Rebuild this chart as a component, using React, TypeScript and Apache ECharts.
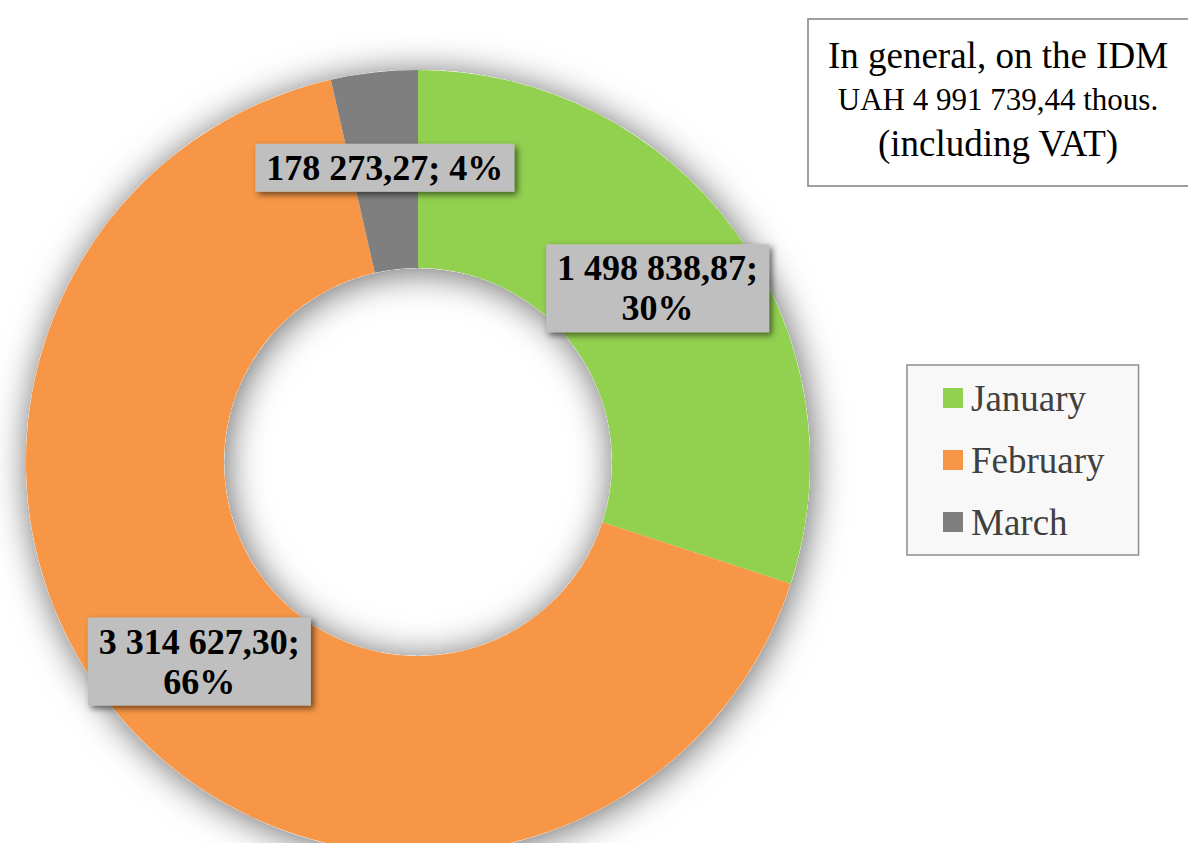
import React, { useEffect, useRef } from 'react';
import * as echarts from 'echarts';

const categories = ['January', 'February', 'March'];
const values = [1498838.87, 3314627.3, 178273.27];
const colors = ['#92D050', '#F79646', '#7F7F7F'];
const titleLines = ['In general, on the IDM', 'UAH 4 991 739,44 thous.', '(including VAT)'];

const FONT = '"Liberation Serif", "Times New Roman", serif';

function fmt(v: number): string {
  const [i, d] = v.toFixed(2).split('.');
  return i.replace(/\B(?=(\d{3})+(?!\d))/g, ' ') + ',' + d;
}

export default function App() {
  const ref = useRef<HTMLDivElement>(null);
  useEffect(() => {
    if (!ref.current) return;
    const chart = echarts.init(ref.current, undefined, { renderer: 'svg' });
    const option: any = {
      animation: false,
      backgroundColor: '#ffffff',
      color: colors,
      legend: {
        orient: 'vertical',
        left: 907,
        top: 365,
        data: categories,
        icon: 'rect',
        itemWidth: 20,
        itemHeight: 20,
        itemGap: 22,
        itemStyle: { borderWidth: 0 },
        padding: [13, 34, 13, 36],
        backgroundColor: '#f8f8f8',
        borderColor: '#8c8c8c',
        borderWidth: 1.5,
        textStyle: { fontFamily: FONT, fontSize: 37, color: '#404040', lineHeight: 40, padding: [0, 0, 0, 3] },
      },
      graphic: [
        {
          type: 'rect',
          shape: { x: 808, y: 19, width: 390, height: 167 },
          style: { fill: '#ffffff', stroke: '#808080', lineWidth: 1.5 },
        },
        {
          type: 'text',
          x: 998,
          y: 55,
          style: { text: titleLines[0], fontFamily: FONT, fontSize: 37, fill: '#000', align: 'center', verticalAlign: 'middle' },
        },
        {
          type: 'text',
          x: 998,
          y: 99,
          style: { text: titleLines[1], fontFamily: FONT, fontSize: 31, fill: '#000', align: 'center', verticalAlign: 'middle' },
        },
        {
          type: 'text',
          x: 998,
          y: 143,
          style: { text: titleLines[2], fontFamily: FONT, fontSize: 37, fill: '#000', align: 'center', verticalAlign: 'middle' },
        },
      ],
      series: [
        {
          type: 'pie',
          silent: true,
          center: [418, 462],
          radius: [194, 392],
          startAngle: 90,
          label: { show: false },
          labelLine: { show: false },
          itemStyle: {
            color: '#ffffff',
            shadowBlur: 36,
            shadowColor: 'rgba(0,0,0,0.6)',
            shadowOffsetX: 2,
            shadowOffsetY: 3,
          },
          data: [{ value: 1, name: '_ring' }],
          z: 1,
        },
        {
          type: 'pie',
          center: [418, 462],
          radius: [194, 392],
          startAngle: 90,
          clockwise: true,
          z: 2,
          emphasis: { disabled: true },
          itemStyle: { borderWidth: 0 },
          label: {
            show: true,
            position: 'inside',
            formatter: (p: any) => {
              const sep = p.name === 'March' ? ' ' : '\n';
              return fmt(p.value) + ';' + sep + Math.round(p.percent) + '%';
            },
            fontFamily: FONT,
            fontWeight: 'bold',
            fontSize: 36,
            lineHeight: 40,
            color: '#000',
            align: 'center',
            backgroundColor: '#bfbfbf',
            padding: [4, 11],
            shadowBlur: 6,
            shadowColor: 'rgba(0,0,0,0.55)',
            shadowOffsetX: 3,
            shadowOffsetY: 3,
          },
          labelLine: { show: false },
          data: categories.map((c, i) => ({ name: c, value: values[i] })),
        },
      ],
    };
    chart.setOption(option);
    return () => chart.dispose();
  }, []);
  return (
    <div
      ref={ref}
      style={{ position: 'absolute', left: 0, top: 0, width: 1188, height: 843 }}
    />
  );
}
